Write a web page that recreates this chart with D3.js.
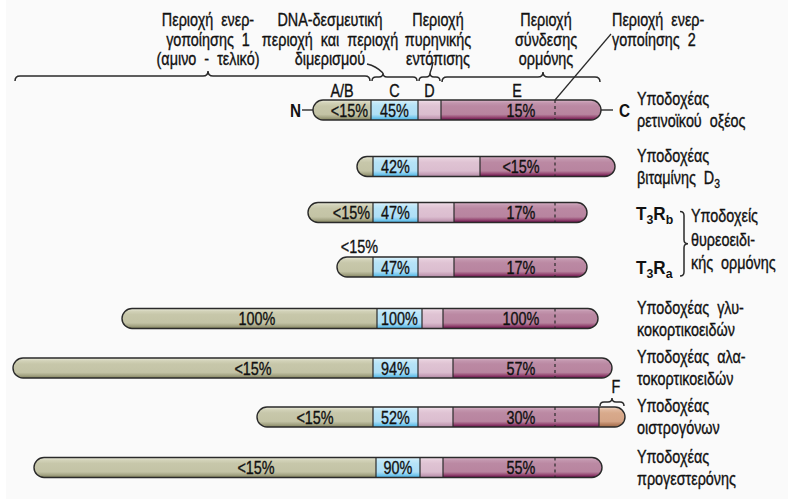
<!DOCTYPE html>
<html><head><meta charset="utf-8">
<script src="https://cdn.jsdelivr.net/npm/d3@7"></script>
<style>
html,body{margin:0;padding:0;background:#fafafa;}
svg{display:block;}
</style>
</head><body>
<svg id="chart" width="788" height="499"></svg>
<script>
// ---------------- DATA ----------------
const receptors = ["RAR", "VDR", "T3Rb", "T3Ra", "GR", "MR", "ER", "PR"];
const receptorLabels = [
  ["Υποδοχέας", "ρετινοϊκού  οξέος"],
  ["Υποδοχέας", "βιταμίνης  D_3"],
  ["T_3R_b"],
  ["T_3R_a"],
  ["Υποδοχέας  γλυ-", "κοκορτικοειδών"],
  ["Υποδοχέας  αλα-", "τοκορτικοειδών"],
  ["Υποδοχέας", "οιστρογόνων"],
  ["Υποδοχέας", "προγεστερόνης"]
];
const thyroidGroupLabel = ["Υποδοχείς", "θυρεοειδι-", "κής  ορμόνης"];
// domain boundaries (position relative to start of DNA-binding domain C)
const abStart = [-60, -16, -65, -36, -251, -360, -116, -339];
const cStart  = [-2, 0, 0, 0, 4, 0, 0, 3];
const dStart  = [45, 45, 45, 45, 49, 45, 45, 47];
const eStart  = [68, 107, 81, 81, 70, 80, 80, 70];
const eEnd    = [228, 242, 214, 214, 225, 239, 226, 229];
const fEnd    = [null, null, null, null, null, null, 252, null];
const af2Pos  = 182;
// homology with glucocorticoid receptor
const abHomology = ["<15%", "", "<15%", "<15%", "100%", "<15%", "<15%", "<15%"];
const cHomology  = ["45%", "42%", "47%", "47%", "100%", "94%", "52%", "90%"];
const eHomology  = ["15%", "<15%", "17%", "17%", "100%", "57%", "30%", "55%"];
const domainNames = ["A/B", "C", "D", "E", "F"];
const regionTitles = [
  ["Περιοχή  ενερ-", "γοποίησης  1", "(αμινο  -  τελικό)"],
  ["DNA-δεσμευτική", "περιοχή  και  περιοχή", "διμερισμού"],
  ["Περιοχή", "πυρηνικής", "εντόπισης"],
  ["Περιοχή", "σύνδεσης", "ορμόνης"],
  ["Περιοχή  ενερ-", "γοποίησης  2"]
];

// ---------------- LAYOUT ----------------
const svg = d3.select("#chart");
const x = d3.scaleLinear().domain([-373, 415]).range([0, 788]);
const y = d3.scaleOrdinal().domain(receptors).range([110, 166.5, 212.5, 267, 318.5, 368, 417, 467.5]);
const BH = 20, R = BH / 2;
const STROKE = "#2a2a2a";
const FONT = "'Liberation Sans', Arial, Helvetica, sans-serif";
const SX = 0.8; // horizontal compression to mimic a condensed face

svg.append("rect").attr("x", 0).attr("y", 0).attr("width", 788).attr("height", 499).attr("fill", "#ffffff");
svg.append("rect").attr("x", 6).attr("y", 0).attr("width", 782).attr("height", 499).attr("fill", "#fafafa");

const defs = svg.append("defs");
function grad(id, stops) {
  const g = defs.append("linearGradient").attr("id", id)
    .attr("x1", 0).attr("y1", 0).attr("x2", 0).attr("y2", 1);
  stops.forEach(([o, c]) => g.append("stop").attr("offset", o).attr("stop-color", c));
}
grad("gAB", [[0, "#ececdc"], [0.14, "#d2d2b8"], [0.3, "#c7c7aa"], [0.72, "#c3c3a5"], [0.86, "#a6a686"], [1, "#84845f"]]);
grad("gC",  [[0, "#e6f6fd"], [0.14, "#c4e9f9"], [0.3, "#b6e3f7"], [0.72, "#afdff6"], [0.86, "#7ccaee"], [1, "#48b2e4"]]);
grad("gD",  [[0, "#f4e6ee"], [0.14, "#e6cddb"], [0.3, "#dfc3d3"], [0.72, "#dbbdcf"], [0.86, "#c9a2ba"], [1, "#b08aa4"]]);
grad("gE",  [[0, "#dcb6ca"], [0.14, "#c396ae"], [0.3, "#bb89a3"], [0.72, "#b8849f"], [0.86, "#964a74"], [1, "#6a0c48"]]);
grad("gF",  [[0, "#f4dccb"], [0.14, "#e0b89e"], [0.3, "#d8aa8c"], [0.72, "#d4a486"], [0.86, "#b88262"], [1, "#9c6646"]]);

// text helper: real SVG text, compressed horizontally
function T(parent, tx, ty, str, o = {}) {
  const size = o.size || 17;
  const t = parent.append("text")
    .attr("transform", `translate(${tx},${ty}) scale(${o.sx || SX},1)`)
    .attr("text-anchor", o.anchor || "start")
    .attr("font-family", o.family || FONT)
    .attr("font-size", size)
    .attr("font-weight", o.weight || "normal")
    .attr("fill", "#111")
    .attr("stroke", o.weight === "bold" ? "none" : "#111")
    .attr("stroke-width", 0.35)
    .style("white-space", "pre");
  const parts = str.split(/(_.)/).filter(p => p);
  let shift = 0;
  parts.forEach(p => {
    if (p[0] === "_") {
      t.append("tspan").attr("font-size", size * 0.72).attr("dy", 4).text(p[1]);
      shift = -4;
    } else {
      const ts = t.append("tspan").text(p);
      if (shift) { ts.attr("dy", shift); shift = 0; }
    }
  });
  return t;
}

// ---------------- BARS ----------------
const eLabelX = (x(eStart[0]) + x(eEnd[0])) / 2;
receptors.forEach((r, i) => {
  const cy = y(r);
  const x0 = x(abStart[i]);
  const end = fEnd[i] != null ? fEnd[i] : eEnd[i];
  const x1 = x(end);
  const g = svg.append("g");
  const clipId = "clip" + i;
  defs.append("clipPath").attr("id", clipId).append("rect")
    .attr("x", x0).attr("y", cy - R).attr("width", x1 - x0).attr("height", BH).attr("rx", R).attr("ry", R);
  const segs = [
    [abStart[i], cStart[i], "gAB"],
    [cStart[i], dStart[i], "gC"],
    [dStart[i], eStart[i], "gD"],
    [eStart[i], eEnd[i], "gE"]
  ];
  if (fEnd[i] != null) segs.push([eEnd[i], fEnd[i], "gF"]);
  const sg = g.append("g").attr("clip-path", `url(#${clipId})`);
  segs.forEach(([a, b, gid]) => {
    sg.append("rect").attr("x", x(a)).attr("y", cy - R).attr("width", x(b) - x(a)).attr("height", BH)
      .attr("fill", `url(#${gid})`);
  });
  segs.slice(1).forEach(([a]) => {
    g.append("line").attr("x1", x(a)).attr("x2", x(a)).attr("y1", cy - R).attr("y2", cy + R)
      .attr("stroke", STROKE).attr("stroke-width", 1.2);
  });
  g.append("line").attr("x1", x(af2Pos)).attr("x2", x(af2Pos)).attr("y1", cy - R).attr("y2", cy + R)
    .attr("stroke", STROKE).attr("stroke-width", 1.2).attr("stroke-dasharray", "3,3");
  g.append("rect").attr("x", x0).attr("y", cy - R).attr("width", x1 - x0).attr("height", BH)
    .attr("rx", R).attr("ry", R).attr("fill", "none").attr("stroke", STROKE).attr("stroke-width", 1.4);

  // homology labels
  const abLen = x(cStart[i]) - x0;
  if (abHomology[i]) {
    if (abLen >= 50 && abLen < 90) {
      T(g, x(cStart[i]) - 3, cy + 6.5, abHomology[i], { anchor: "end", size: 18 });
    } else if (abLen >= 90) {
      const cx = Math.max((x0 + x(cStart[i])) / 2, x(cStart[i]) - 120);
      T(g, cx, cy + 6.5, abHomology[i], { anchor: "middle", size: 18 });
    } else {
      T(g, x(cStart[i]) + 5, cy - 14, abHomology[i], { anchor: "end", size: 18 });
    }
  }
  T(g, (x(cStart[i]) + x(dStart[i])) / 2, cy + 6.5, cHomology[i], { anchor: "middle", size: 18 });
  T(g, eLabelX, cy + 6.5, eHomology[i], { anchor: "middle", size: 18 });

  // right labels
  const lab = receptorLabels[i];
  if (lab.length === 1) {
    T(g, 636, cy + 7, lab[0], { size: 18, weight: "bold", sx: 0.95 });
  } else {
    lab.forEach((line, k) => T(g, 637, cy - 5 + k * 22, line, { size: 18 }));
  }
});

// N / C terminal markers, domain letters
{
  const cy = y(receptors[0]);
  const x0 = x(abStart[0]), x1 = x(eEnd[0]);
  svg.append("line").attr("x1", x0 - 11).attr("x2", x0).attr("y1", cy).attr("y2", cy).attr("stroke", STROKE).attr("stroke-width", 1.4);
  T(svg, x0 - 12, cy + 7, "N", { anchor: "end", size: 18, weight: "bold", sx: 0.85 });
  svg.append("line").attr("x1", x1).attr("x2", x1 + 12).attr("y1", cy).attr("y2", cy).attr("stroke", STROKE).attr("stroke-width", 1.4);
  T(svg, x1 + 18, cy + 7, "C", { size: 18, weight: "bold", sx: 0.85 });
  const mids = [(x0 + x(cStart[0])) / 2, (x(cStart[0]) + x(dStart[0])) / 2, (x(dStart[0]) + x(eStart[0])) / 2, (x(eStart[0]) + x1) / 2 - 4];
  mids.forEach((m, k) => T(svg, m, cy - 13, domainNames[k], { anchor: "middle", size: 18 }));
}

// ---------------- BRACES ----------------
function hBrace(x1, x2, yb, xt, h) {
  return `M${x1},${yb + h} Q${x1},${yb} ${x1 + h},${yb} L${xt - h},${yb} Q${xt},${yb} ${xt},${yb - h}` +
    ` Q${xt},${yb} ${xt + h},${yb} L${x2 - h},${yb} Q${x2},${yb} ${x2},${yb + h}`;
}
const braceStyle = s => s.attr("fill", "none").attr("stroke", STROKE).attr("stroke-width", 1.5);
const braceY = 77;
svg.append("path").attr("d", hBrace(15, x(cStart[0]) - 1, braceY - 1, 208, 5)).call(braceStyle);
svg.append("path").attr("d", hBrace(x(cStart[0]) + 1, x(dStart[0]) - 1, braceY, 383, 4)).call(braceStyle);
svg.append("path").attr("d", "M383,73 Q376,66 367,64").call(braceStyle);
svg.append("path").attr("d", hBrace(x(dStart[0]) + 1, x(eStart[0]) - 1, braceY, 430, 4)).call(braceStyle);
svg.append("path").attr("d", "M430,73 Q432,68 433,62").call(braceStyle);
svg.append("path").attr("d", hBrace(x(eStart[0]) + 1, x(eEnd[0]) - 1, braceY, 543, 5)).call(braceStyle);
{
  const i = 6, cy = y(receptors[i]);
  const mx = (x(eEnd[i]) + x(fEnd[i])) / 2;
  svg.append("path").attr("d", hBrace(x(eEnd[i]) + 1, x(fEnd[i]) - 1, cy - 15, mx, 4)).call(braceStyle);
  T(svg, mx + 4, cy - 24, domainNames[4], { anchor: "middle", size: 18 });
}
svg.append("line").attr("x1", 611).attr("y1", 34).attr("x2", x(af2Pos)).attr("y2", y(receptors[0]) - R)
  .attr("stroke", STROKE).attr("stroke-width", 1.2);

// thyroid vertical brace + group label
{
  const top = y("T3Rb") - 1, bot = y("T3Ra") + 9, xb = 684, h = 4, mid = (top + bot) / 2;
  svg.append("path").attr("d",
    `M${xb - h},${top} Q${xb},${top} ${xb},${top + h} L${xb},${mid - h} Q${xb},${mid} ${xb + h},${mid}` +
    ` Q${xb},${mid} ${xb},${mid + h} L${xb},${bot - h} Q${xb},${bot} ${xb - h},${bot}`).call(braceStyle);
  thyroidGroupLabel.forEach((l, k) => T(svg, 691, 222 + k * 23.5, l, { size: 18 }));
}

// ---------------- REGION TITLES ----------------
const titleX = [208, 330, 438, 546, 612];
const titleAnchor = ["middle", "middle", "middle", "middle", "start"];
regionTitles.forEach((lines, k) => {
  lines.forEach((l, j) => T(svg, titleX[k], 26 + j * 19.5, l, { anchor: titleAnchor[k], size: 18 }));
});
</script>
</body></html>
